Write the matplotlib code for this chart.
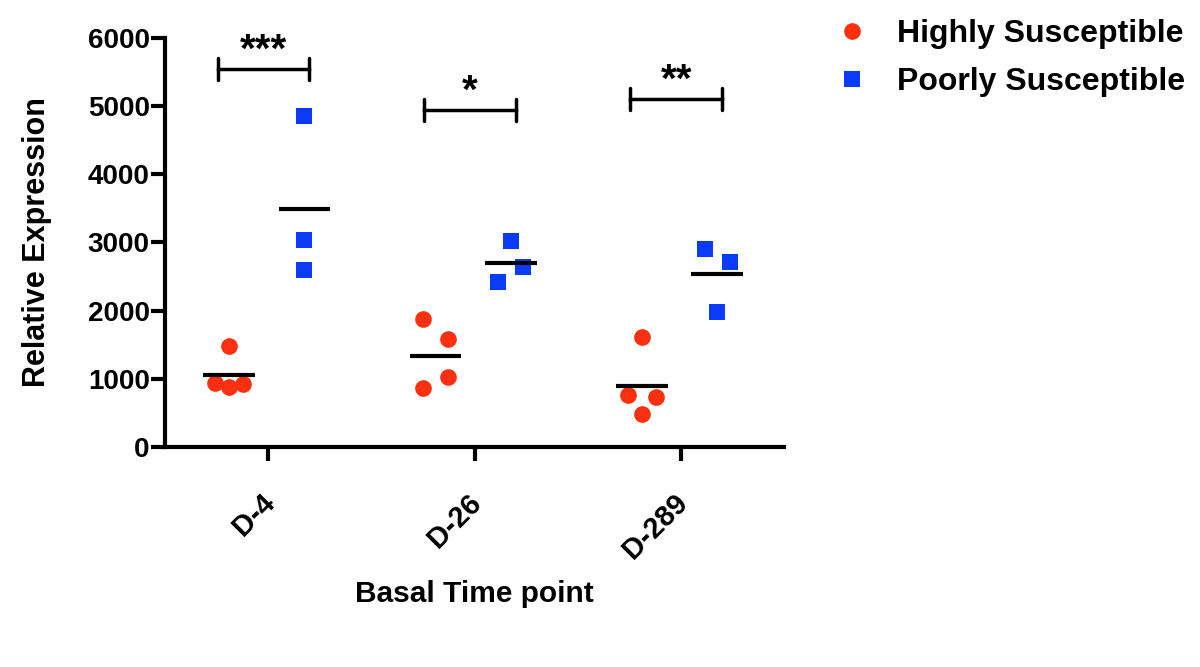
import numpy as np
import matplotlib
matplotlib.use('Agg')
import matplotlib.pyplot as plt
from matplotlib.lines import Line2D
from matplotlib.transforms import ScaledTranslation

plt.rcParams['font.family'] = ['Liberation Sans', 'DejaVu Sans']
plt.rcParams['font.weight'] = 'bold'

# data
time_points = ['D-4', 'D-26', 'D-289']
highly = [
    [1486, 943, 875, 924],
    [1878, 1580, 1031, 861],
    [1609, 763, 729, 480],
]
poorly = [
    [4856, 3037, 2596],
    [3022, 2645, 2416],
    [2905, 2719, 1985],
]
# small horizontal scatter of the points, as in the dot plot
highly_jitter = [
    [0.0, -0.07, 0.0, 0.07],
    [-0.06, 0.06, 0.06, -0.06],
    [0.0, -0.065, 0.07, 0.0],
]
poorly_jitter = [
    [0.0, 0.0, 0.0],
    [0.0, 0.06, -0.06],
    [-0.06, 0.06, 0.0],
]
sig_labels = ['***', '*', '**']
sig_heights = [5545, 4943, 5105]

red = '#fb3010'
blue = '#0a3cf8'
off_h = -0.19
off_p = 0.175

fig = plt.figure(figsize=(12, 6.67), dpi=100)
ax = fig.add_axes([0.1375, 0.33, 0.516, 0.613])

x = np.arange(len(time_points))
for i in range(len(time_points)):
    xh = x[i] + off_h + np.array(highly_jitter[i])
    xp = x[i] + off_p + np.array(poorly_jitter[i])
    ax.plot(xh, highly[i], 'o', color=red, markersize=12, markeredgewidth=0, zorder=3)
    ax.plot(xp, poorly[i], 's', color=blue, markersize=11.5, markeredgewidth=0, zorder=3)
    # mean lines
    ax.plot([x[i] + off_h - 0.125, x[i] + off_h + 0.125], [np.mean(highly[i])] * 2,
            color='black', lw=3, solid_capstyle='butt', zorder=4)
    ax.plot([x[i] + off_p - 0.125, x[i] + off_p + 0.125], [np.mean(poorly[i])] * 2,
            color='black', lw=3, solid_capstyle='butt', zorder=4)
    # significance bracket
    x0, x1 = x[i] - 0.245, x[i] + 0.2
    y0 = sig_heights[i]
    ax.plot([x0, x1], [y0, y0], color='black', lw=2.5, clip_on=False)
    ax.plot([x0, x0], [y0 - 155, y0 + 155], color='black', lw=2.5,
            solid_capstyle='round', clip_on=False)
    ax.plot([x1, x1], [y0 - 155, y0 + 155], color='black', lw=2.5,
            solid_capstyle='round', clip_on=False)
    ax.text((x0 + x1) / 2, y0 + 110, sig_labels[i], ha='center', va='baseline',
            fontsize=29, fontweight='bold', clip_on=False)

ax.set_xlim(-0.5, 2.5)
ax.set_ylim(0, 6000)
ax.set_yticks(np.arange(0, 6001, 1000))
ax.set_xticks(x)
ax.set_xticklabels(time_points, rotation=45, ha='right', rotation_mode='anchor',
                   fontsize=21, fontweight='bold')
for lab in ax.get_yticklabels():
    lab.set_fontsize(20)
    lab.set_fontweight('bold')

for s in ['top', 'right']:
    ax.spines[s].set_visible(False)
for s in ['left', 'bottom']:
    ax.spines[s].set_linewidth(3)
ax.tick_params(axis='both', width=3, length=10, direction='out', pad=1)
ax.tick_params(axis='x', pad=20)
shift = ScaledTranslation(-0.08, 0, fig.dpi_scale_trans)
for lab in ax.get_xticklabels():
    lab.set_transform(lab.get_transform() + shift)

ax.set_ylabel('Relative Expression', fontsize=22, fontweight='bold', va='center')
ax.yaxis.set_label_coords(-0.206, 0.5)
ax.set_xlabel('Basal Time point', fontsize=21.5, fontweight='bold', va='center')
ax.xaxis.set_label_coords(0.5, -0.36)

handles = [
    Line2D([], [], marker='o', linestyle='none', color=red, markersize=12, markeredgewidth=0),
    Line2D([], [], marker='s', linestyle='none', color=blue, markersize=11.5, markeredgewidth=0),
]
fig.legend(handles, ['Highly Susceptible', 'Poorly Susceptible'],
           loc='upper left', bbox_to_anchor=(0.681, 1.0), frameon=False,
           prop={'size': 23, 'weight': 'bold'}, handletextpad=0.9,
           labelspacing=0.55, handlelength=1.0, borderpad=0.1)

fig.savefig('out.png', dpi=100)
